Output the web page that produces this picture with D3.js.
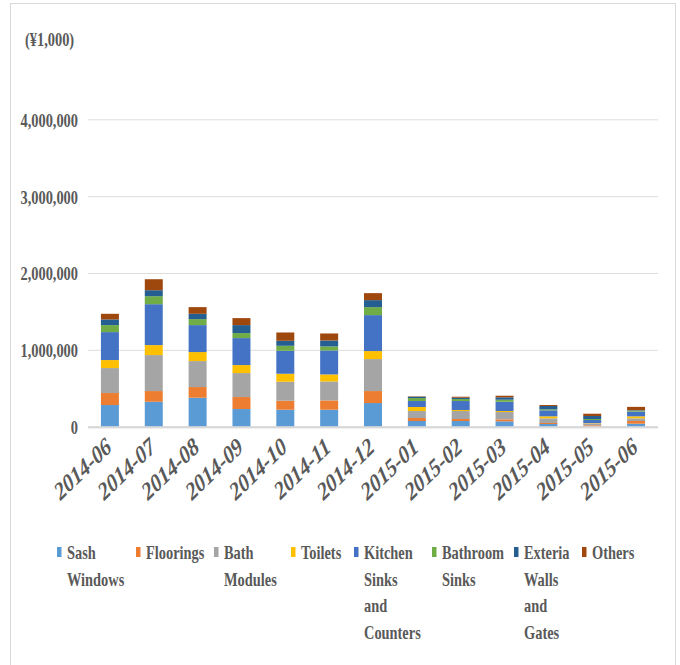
<!DOCTYPE html>
<html>
<head>
<meta charset="utf-8">
<script src="https://cdn.jsdelivr.net/npm/d3@7"></script>
<style>
  html, body { margin: 0; padding: 0; background: #fff; }
  svg { display: block; }
  text { font-family: "Liberation Serif", "Times New Roman", serif; }
</style>
</head>
<body>
<svg id="chart" width="680" height="665"></svg>
<script>
// ---- data ----
const months = ["2014-06","2014-07","2014-08","2014-09","2014-10","2014-11","2014-12",
                "2015-01","2015-02","2015-03","2015-04","2015-05","2015-06"];
const seriesNames = ["Sash Windows","Floorings","Bath Modules","Toilets",
                     "Kitchen Sinks and Counters","Bathroom Sinks","Exteria Walls and Gates","Others"];
const sashWindows   = [282000,325000,377000,230000,221000,221000,308000,74000,74000,70000,35000,5000,39000];
const floorings     = [156000,139000,139000,156000,117000,121000,156000,39000,26000,26000,13000,13000,35000];
const bathModules   = [325000,468000,338000,312000,247000,247000,416000,91000,104000,95000,61000,26000,35000];
const toilets       = [104000,130000,117000,104000,104000,91000,104000,52000,13000,13000,26000,4000,26000];
const kitchenSinks  = [364000,532000,351000,351000,299000,312000,468000,78000,117000,121000,78000,39000,61000];
const bathroomSinks = [91000,104000,78000,65000,65000,52000,104000,39000,26000,26000,13000,13000,13000];
const exteriaWalls  = [74000,78000,69000,104000,65000,78000,91000,17000,17000,31000,43000,39000,6000];
const others        = [73000,143000,87000,91000,108000,91000,91000,5000,13000,21000,13000,30000,43000];
const yTicks = [0,1000000,2000000,3000000,4000000];
const unitLabel = "(¥1,000)";
const colors = ["#5B9BD5","#ED7D31","#A5A5A5","#FFC000","#4472C4","#70AD47","#255E91","#9E480E"];

// ---- layout ----
const K = 0.8;                 // horizontal squeeze of the whole picture
const X = v => v / K;          // picture px -> layout px
const svg = d3.select("#chart");
svg.append("rect").attr("width",680).attr("height",665).attr("fill","#fff");
svg.append("rect").attr("x",10.5).attr("y",3.5).attr("width",665).attr("height",680)
   .attr("fill","none").attr("stroke","#d9d9d9").attr("stroke-width",1);

const g = svg.append("g").attr("transform",`scale(${K},1)`);

const plotL = X(88), plotR = X(658);
const y = d3.scaleLinear().domain([0,4000000]).range([426.7,119.3]);
const x = d3.scaleBand().domain(months).range([plotL,plotR]).paddingInner(0.59).paddingOuter(0.295);

const allSeries = [sashWindows,floorings,bathModules,toilets,kitchenSinks,bathroomSinks,exteriaWalls,others];
const rows = months.map((m,i) => {
  const r = {month:m};
  seriesNames.forEach((s,j) => r[s] = allSeries[j][i]);
  return r;
});
const stacked = d3.stack().keys(seriesNames)(rows);

// y axis + gridlines
const yAxis = g.append("g").attr("transform",`translate(${plotL},0)`)
  .call(d3.axisLeft(y).tickValues(yTicks).tickFormat(d3.format(",")).tickSize(-(plotR-plotL)).tickPadding(X(10)));
yAxis.select(".domain").remove();
yAxis.selectAll(".tick line").attr("stroke","#d9d9d9").attr("stroke-width",1)
  .filter(d => d === 0).attr("stroke-width",2);
yAxis.selectAll(".tick text").attr("fill","#595959").attr("font-size",18).attr("font-weight","bold")
  .attr("font-family","Liberation Serif").attr("dy","0.38em");

// bars
g.append("g").selectAll("g").data(stacked).join("g")
  .attr("fill",(d,i) => colors[i])
  .selectAll("rect").data(d => d).join("rect")
  .attr("x",d => x(d.data.month))
  .attr("width",x.bandwidth())
  .attr("y",d => y(d[1]))
  .attr("height",d => y(d[0]) - y(d[1]));

// redraw zero line on top
g.append("line").attr("x1",plotL).attr("x2",plotR).attr("y1",y(0)+0.5).attr("y2",y(0)+0.5)
  .attr("stroke","#d9d9d9").attr("stroke-width",2);

// x axis labels
const xAxis = g.append("g").attr("transform",`translate(0,${y(0)})`)
  .call(d3.axisBottom(x).tickSize(0).tickPadding(0));
xAxis.select(".domain").remove();
xAxis.selectAll(".tick text")
  .attr("fill","#595959").attr("font-size",25).attr("font-weight","bold").attr("font-style","italic")
  .attr("font-family","Liberation Serif")
  .attr("text-anchor","end").attr("dy",0).attr("y",0)
  .attr("transform",`translate(${X(3)},23) rotate(-38)`);

// unit label
g.append("text").attr("x",X(25)).attr("y",46.5).attr("fill","#595959")
  .attr("font-size",18).attr("font-weight","bold").text(unitLabel);

// legend
const legX = [57,136,214,291,354,432,514,582];
const leg = g.append("g");
seriesNames.forEach((name,i) => {
  const it = leg.append("g");
  it.append("rect").attr("x",X(legX[i])).attr("y",547).attr("width",X(4.5)).attr("height",10).attr("fill",colors[i]);
  const t = it.append("text").attr("x",X(legX[i]+10)).attr("y",559).attr("fill","#595959")
    .attr("font-size",18).attr("font-weight","bold");
  name.split(" ").forEach((w,k) => {
    t.append("tspan").attr("x",X(legX[i]+10)).attr("y",559 + k*26.7).text(w);
  });
});
</script>
</body>
</html>
